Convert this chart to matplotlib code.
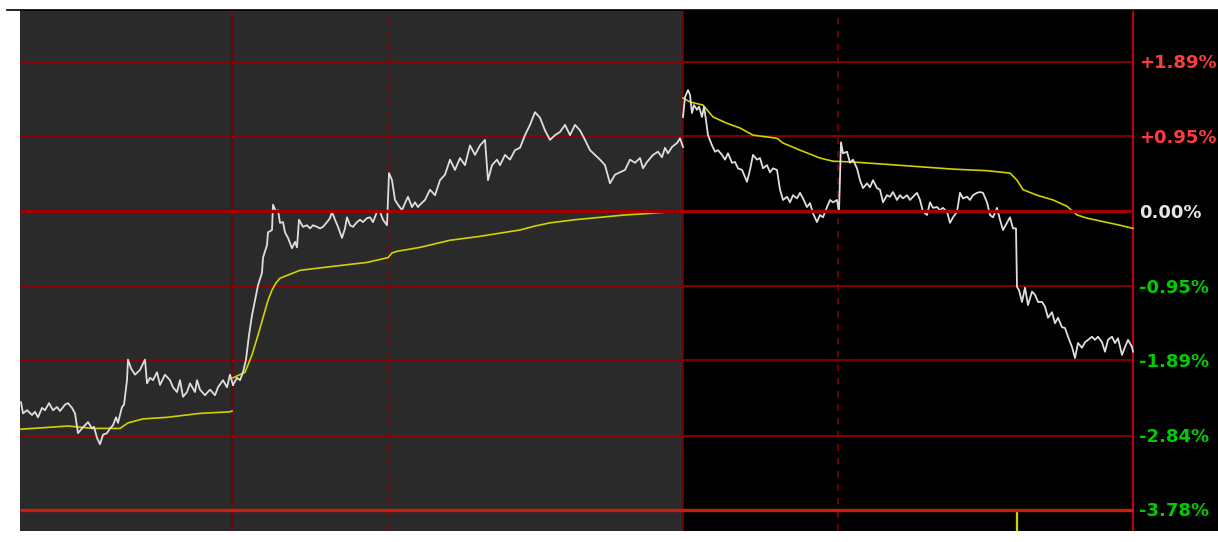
import matplotlib
matplotlib.use("Agg")
import matplotlib.pyplot as plt
from matplotlib.lines import Line2D

# time index (one unit per minute slot) and change in percent vs previous close
d1_price = [(1,-2.42),(3,-2.56),(7,-2.52),(12,-2.58),(15,-2.54),(18,-2.61),(22,-2.49),(25,-2.52),
            (29,-2.43),(33,-2.52),(37,-2.48),(40,-2.53),(45,-2.45),(48,-2.43),(52,-2.49),(55,-2.56),
            (58,-2.81),(62,-2.75),(65,-2.71),(68,-2.67),(72,-2.75),(74,-2.73),(77,-2.87),(80,-2.95),
            (83,-2.83),(87,-2.81),(90,-2.75),(93,-2.71),(96,-2.61),(98,-2.68),(102,-2.48),(104,-2.45),
            (107,-2.14),(108,-1.88),(111,-1.99),(115,-2.07),(120,-2.01),(125,-1.88),(127,-2.18),
            (130,-2.11),(133,-2.14),(137,-2.04),(140,-2.20),(145,-2.07),(150,-2.14),(153,-2.23),
            (157,-2.29),(160,-2.14),(163,-2.35),(167,-2.29),(170,-2.18),(175,-2.29),(177,-2.14),
            (180,-2.26),(185,-2.33),(190,-2.26),(195,-2.33),(198,-2.23),(203,-2.14),(207,-2.23),
            (210,-2.07),(213,-2.20)]
d1_avg = [(0,-2.76),(13,-2.75),(48,-2.72),(73,-2.75),(100,-2.75),(108,-2.68),(123,-2.63),
          (147,-2.61),(180,-2.56),(210,-2.54),(212,-2.53)]

d2_price = [(213,-2.20),(217,-2.11),(220,-2.14),(223,-2.04),(226,-1.88),(229,-1.57),(232,-1.32),
            (235,-1.13),(238,-0.94),(242,-0.78),(243,-0.59),(247,-0.43),(248,-0.27),(252,-0.24),
            (253,0.08),(256,-0.01),(258,0.01),(260,-0.15),(263,-0.14),(265,-0.27),(268,-0.34),
            (272,-0.47),(275,-0.39),(277,-0.46),(279,-0.11),(283,-0.20),(287,-0.18),(290,-0.22),
            (293,-0.18),(297,-0.20),(300,-0.22),(303,-0.20),(307,-0.14),(310,-0.09),(312,-0.01),
            (315,-0.11),(318,-0.20),(322,-0.34),(325,-0.22),(327,-0.08),(330,-0.18),(333,-0.20),
            (337,-0.14),(340,-0.11),(343,-0.14),(347,-0.09),(350,-0.08),(353,-0.14),(357,-0.01),
            (360,-0.01),(363,-0.11),(367,-0.18),(369,0.48),(372,0.39),(375,0.14),(378,0.08),
            (382,0.01),(385,0.10),(388,0.18),(392,0.05),(395,0.11),(398,0.05),(400,0.08),(405,0.14),
            (410,0.27),(415,0.20),(420,0.39),(425,0.46),(430,0.65),(435,0.52),(440,0.67),(445,0.58),
            (450,0.83),(455,0.71),(460,0.83),(465,0.90),(468,0.39),(472,0.58),(477,0.65),(480,0.58),
            (485,0.71),(490,0.65),(495,0.77),(500,0.80),(505,0.96),(510,1.09),(515,1.25),(520,1.18),
            (525,1.02),(530,0.90),(535,0.96),(540,1.00),(545,1.09),(550,0.96),(555,1.09),(560,1.02),
            (565,0.90),(570,0.77),(575,0.71),(580,0.65),(585,0.58),(590,0.35),(595,0.46),(600,0.49),
            (605,0.52),(610,0.65),(615,0.61),(620,0.67),(623,0.54),(627,0.62),(633,0.71),(638,0.75),
            (642,0.68),(645,0.80),(648,0.73),(652,0.81),(657,0.86),(660,0.92),(663,0.81)]
d2_avg = [(213,-2.11),(225,-2.04),(232,-1.82),(238,-1.57),(243,-1.35),(248,-1.13),(252,-1.00),
          (256,-0.91),(260,-0.85),(270,-0.80),(280,-0.75),(313,-0.70),(347,-0.65),(368,-0.59),
          (372,-0.53),(377,-0.51),(400,-0.46),(430,-0.37),(460,-0.32),(480,-0.28),(500,-0.24),
          (515,-0.19),(530,-0.15),(555,-0.11),(580,-0.08),(605,-0.05),(630,-0.03),(650,-0.01),
          (663,0.00)]

d3_price = [(663,1.19),(665,1.44),(668,1.53),(670,1.47),(672,1.24),(674,1.34),(677,1.28),(679,1.32),
            (682,1.19),(684,1.32),(686,1.15),(688,0.96),(692,0.83),(695,0.75),(698,0.77),(702,0.71),
            (705,0.65),(708,0.73),(712,0.61),(715,0.62),(718,0.54),(722,0.52),(725,0.43),(727,0.37),
            (730,0.52),(733,0.71),(737,0.65),(740,0.67),(743,0.54),(747,0.58),(750,0.49),(753,0.54),
            (757,0.52),(760,0.27),(763,0.14),(767,0.18),(770,0.11),(773,0.20),(777,0.16),(780,0.23),
            (783,0.16),(787,0.05),(790,0.10),(793,-0.03),(797,-0.14),(800,-0.05),(803,-0.08),
            (807,0.05),(810,0.14),(813,0.11),(817,0.14),(819,-0.01),(821,0.87),(823,0.73),(827,0.75),
            (830,0.61),(833,0.65),(837,0.54),(840,0.39),(843,0.29),(847,0.35),(850,0.30),(853,0.39),
            (857,0.29),(860,0.27),(863,0.11),(867,0.20),(870,0.18),(873,0.24),(877,0.14),(880,0.20),
            (883,0.16),(887,0.20),(890,0.14),(893,0.18),(897,0.23),(900,0.14),(903,-0.01),
            (907,-0.05),(910,0.11),(913,0.04),(917,0.05),(920,0.01),(923,0.04),(927,-0.01),
            (930,-0.15),(933,-0.08),(937,-0.01),(940,0.23),(943,0.16),(947,0.18),(950,0.14),
            (953,0.20),(957,0.23),(960,0.24),(963,0.23),(967,0.11),(970,-0.05),(973,-0.08),
            (977,0.04),(980,-0.11),(983,-0.24),(987,-0.15),(990,-0.08),(993,-0.22),(996,-0.22),
            (997,-0.96),(999,-1.00),(1002,-1.15),(1005,-0.97),(1008,-1.19),(1012,-1.02),(1015,-1.06),
            (1018,-1.15),(1022,-1.15),(1025,-1.21),(1028,-1.35),(1032,-1.28),(1035,-1.42),
            (1038,-1.35),(1042,-1.47),(1045,-1.48),(1048,-1.59),(1052,-1.72),(1055,-1.86),
            (1058,-1.67),(1062,-1.73),(1065,-1.66),(1068,-1.63),(1072,-1.59),(1075,-1.63),
            (1078,-1.59),(1082,-1.66),(1085,-1.78),(1088,-1.63),(1092,-1.59),(1095,-1.67),
            (1098,-1.61),(1102,-1.82),(1105,-1.72),(1108,-1.63),(1112,-1.72),(1113,-1.78)]
d3_avg = [(663,1.43),(670,1.38),(683,1.34),(693,1.19),(707,1.11),(720,1.05),(733,0.96),(757,0.92),
          (763,0.86),(780,0.77),(800,0.67),(813,0.63),(833,0.62),(867,0.59),(900,0.56),(933,0.53),
          (967,0.51),(990,0.48),(997,0.39),(1003,0.27),(1017,0.20),(1033,0.14),(1047,0.06),
          (1057,-0.05),(1067,-0.09),(1100,-0.18),(1113,-0.22)]

# volume spike peeking in from the panel below
vol_x = [997]
vol_top = [-3.81]

levels = [1.89, 0.95, 0.00, -0.95, -1.89, -2.84, -3.78]
level_labels = ["+1.89%", "+0.95%", "0.00%", "-0.95%", "-1.89%", "-2.84%", "-3.78%"]

day_start = [212, 663]      # solid separators
midday = [368, 818]         # dashed separators
x_end = 1113                # right edge of the price area

W, H = 1218, 542
fig = plt.figure(figsize=(W / 100, H / 100), dpi=100)
fig.patch.set_facecolor("white")
ax = fig.add_axes([20 / W, 11 / H, 1198 / W, 521 / H])
ax.set_facecolor("black")
ax.set_xlim(0, 1198)
ax.set_ylim(-4.048, 2.543)
for s in ax.spines.values():
    s.set_visible(False)
ax.set_xticks([])
ax.set_yticks([])

# previous session on a grey background
ax.axvspan(0, day_start[1], color="#2a2a2a", lw=0, zorder=0)

# horizontal grid
for v in levels:
    if v == 0:
        ax.hlines(v, 0, x_end, color="#a00000", lw=2.4, zorder=5)
    elif v == levels[-1]:
        ax.hlines(v, 0, x_end, color="#c81e0a", lw=2.4, zorder=5)
    else:
        ax.hlines(v, 0, x_end, color="#9a0000", lw=1.2, zorder=1)

for xv in day_start:
    ax.axvline(xv, color="#780000", lw=1.2, zorder=1)
for xv in midday:
    ax.axvline(xv, color="#8a0000", lw=1.2, ls=(0, (4, 4)), zorder=1)
ax.axvline(x_end, color="#c80000", lw=1.4, zorder=1)

def draw(series, color, lw):
    xs = [p[0] for p in series]
    ys = [p[1] for p in series]
    ax.plot(xs, ys, color=color, lw=lw, zorder=3, solid_joinstyle="round")

for avg in (d1_avg, d2_avg, d3_avg):
    draw(avg, "#d2d200", 1.2)
for price in (d1_price, d2_price, d3_price):
    draw(price, "#dedede", 1.3)

ax.vlines(vol_x, -4.1, vol_top, color="#d2d200", lw=1.6, zorder=4)

for v, lab in zip(levels, level_labels):
    if v > 0:
        c = "#ff3c3c"
    elif v < 0:
        c = "#00cc00"
    else:
        c = "#e6e6e6"
    ax.text(x_end + 6, v - 0.02, lab, color=c, fontsize=13, fontweight="bold",
            family="DejaVu Sans", va="center", ha="left", zorder=6)

# thin dark rule along the top
fig.add_artist(Line2D([7 / W, 1], [1 - 9.5 / H, 1 - 9.5 / H], color="black", lw=1.2))

fig.savefig("out.png", dpi=100, facecolor="white")
